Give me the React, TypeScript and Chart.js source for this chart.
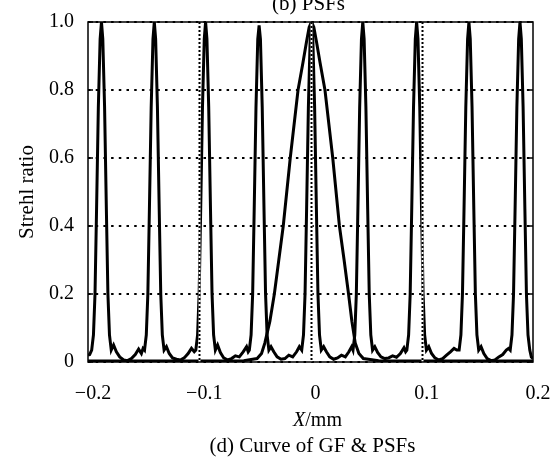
import React, { useEffect, useRef } from "react";
import { Chart, registerables } from "chart.js";

Chart.register(...registerables);

const X_TICKS = [-0.2, -0.1, 0, 0.1, 0.2];
const Y_TICKS = [0, 0.2, 0.4, 0.6, 0.8, 1.0];

// PSF curve (nine narrow peaks on a noisy floor)
const psfX = [
  -0.2, -0.1985,
  -0.1967, -0.1951, -0.1937, -0.1923, -0.1907, -0.1891, -0.1879, -0.1867, -0.1851, -0.1835, -0.1821, -0.1807, -0.1791,
  -0.177, -0.1745, -0.1715, -0.168, -0.1645, -0.161, -0.1575, -0.1545, -0.152, -0.1505,
  -0.1492, -0.1476, -0.1462, -0.1448, -0.1432, -0.1416, -0.1404, -0.1392, -0.1376, -0.136, -0.1346, -0.1332, -0.1316,
  -0.1295, -0.127, -0.124, -0.1205, -0.117, -0.1135, -0.11, -0.107, -0.1045,
  -0.1031, -0.1015, -0.1001, -0.0987, -0.0971, -0.0955, -0.0943, -0.0931, -0.0915, -0.0899, -0.0885, -0.0871, -0.0855,
  -0.0835, -0.081, -0.078, -0.0745, -0.071, -0.0675, -0.064, -0.0605, -0.0575, -0.056,
  -0.055, -0.0534, -0.052, -0.0506, -0.049, -0.0474, -0.0462, -0.045, -0.0434, -0.0418, -0.0404, -0.039, -0.0374,
  -0.0355, -0.033, -0.03, -0.0265, -0.023, -0.0195, -0.016, -0.0125, -0.01,
  -0.0079, -0.0063, -0.0049, -0.0035, -0.0019, -0.0003, 0.0009, 0.0021, 0.0037, 0.0053, 0.0067, 0.0081, 0.0097,
  0.0118, 0.0143, 0.0173, 0.0208, 0.0243, 0.0278, 0.0313, 0.0345, 0.037,
  0.0382, 0.0398, 0.0412, 0.0426, 0.0442, 0.0458, 0.047, 0.0482, 0.0498, 0.0514, 0.0528, 0.0542, 0.0558,
  0.0578, 0.0603, 0.0633, 0.0668, 0.0703, 0.0738, 0.0773, 0.0808, 0.084, 0.0855,
  0.0866, 0.0882, 0.0896, 0.091, 0.0926, 0.0942, 0.0954, 0.0966, 0.0982, 0.0998, 0.1012, 0.1026, 0.1042,
  0.1063, 0.1088, 0.1118, 0.1153, 0.1188, 0.1223, 0.1258, 0.129, 0.1315,
  0.1336, 0.1352, 0.1366, 0.138, 0.1396, 0.1412, 0.1424, 0.1436, 0.1452, 0.1468, 0.1482, 0.1496, 0.1512,
  0.1533, 0.1558, 0.1588, 0.1623, 0.1658, 0.1693, 0.1728, 0.176, 0.178,
  0.1795, 0.1811, 0.1825, 0.1839, 0.1855, 0.1871, 0.1883, 0.1895, 0.1911, 0.1927, 0.1941, 0.1955, 0.1971,
  0.1985, 0.2,
];
const psfY = [
  0.02, 0.022,
  0.035, 0.08, 0.2, 0.45, 0.75, 0.95, 1.0, 0.95, 0.75, 0.45, 0.2, 0.08, 0.035,
  0.05, 0.03, 0.015, 0.006, 0.004, 0.01, 0.022, 0.038, 0.025, 0.04,
  0.035, 0.08, 0.2, 0.45, 0.75, 0.95, 1.0, 0.95, 0.75, 0.45, 0.2, 0.08, 0.035,
  0.045, 0.025, 0.012, 0.008, 0.006, 0.012, 0.025, 0.04, 0.03,
  0.035, 0.08, 0.2, 0.45, 0.75, 0.95, 1.0, 0.95, 0.75, 0.45, 0.2, 0.08, 0.035,
  0.05, 0.028, 0.012, 0.006, 0.01, 0.018, 0.015, 0.03, 0.045, 0.03,
  0.035, 0.08, 0.2, 0.45, 0.75, 0.95, 0.99, 0.95, 0.75, 0.45, 0.2, 0.08, 0.035,
  0.045, 0.03, 0.015, 0.008, 0.01, 0.02, 0.015, 0.03, 0.045,
  0.035, 0.08, 0.2, 0.45, 0.75, 0.95, 1.0, 0.95, 0.75, 0.45, 0.2, 0.08, 0.035,
  0.045, 0.03, 0.015, 0.008, 0.012, 0.02, 0.015, 0.03, 0.045,
  0.035, 0.08, 0.2, 0.45, 0.75, 0.95, 1.0, 0.95, 0.75, 0.45, 0.2, 0.08, 0.035,
  0.045, 0.028, 0.015, 0.01, 0.012, 0.018, 0.014, 0.025, 0.042, 0.03,
  0.035, 0.08, 0.2, 0.45, 0.75, 0.95, 1.0, 0.95, 0.75, 0.45, 0.2, 0.08, 0.035,
  0.045, 0.025, 0.012, 0.006, 0.01, 0.02, 0.03, 0.04, 0.035,
  0.035, 0.08, 0.2, 0.45, 0.75, 0.95, 1.0, 0.95, 0.75, 0.45, 0.2, 0.08, 0.035,
  0.045, 0.025, 0.01, 0.004, 0.006, 0.015, 0.022, 0.035, 0.04,
  0.035, 0.08, 0.2, 0.45, 0.75, 0.95, 1.0, 0.95, 0.75, 0.45, 0.2, 0.08, 0.035,
  0.015, 0.01,
];

// GF curve (wide central lobe)
const gfX = [
  -0.2, -0.1, -0.06, -0.048, -0.044, -0.041, -0.0365, -0.0325, -0.0285, -0.0245, -0.0182, -0.0112, -0.0068, -0.0037, -0.0012,
  0.0009,
  0.003, 0.0055, 0.0086, 0.013, 0.02, 0.026, 0.0302, 0.0342, 0.0372, 0.0402, 0.0435, 0.0475, 0.0612, 0.1, 0.2,
];
const gfY = [
  0.003, 0.003, 0.004, 0.01, 0.025, 0.056, 0.12, 0.2, 0.3, 0.4, 0.6, 0.8, 0.88, 0.94, 0.985,
  1.0,
  0.985, 0.94, 0.88, 0.8, 0.6, 0.4, 0.3, 0.2, 0.12, 0.056, 0.025, 0.01, 0.004, 0.003, 0.003,
];

const SERIF = '"Liberation Serif", "Times New Roman", serif';

const fmtX = (v: number) => (v === 0 ? "0" : (v < 0 ? "\u2212" : "") + Math.abs(v).toFixed(1));
const fmtY = (v: number) => (v === 0 ? "0" : v.toFixed(1));

const decor = {
  id: "decor",
  afterDatasetsDraw(chart: any) {
    const { ctx, chartArea: a, scales } = chart;
    ctx.save();
    // dotted vertical grid lines drawn over the curves (white-backed)
    for (const v of X_TICKS) {
      if (v <= X_TICKS[0] || v >= X_TICKS[X_TICKS.length - 1]) continue;
      const px = Math.round(scales.x.getPixelForValue(v)) + 0.5;
      ctx.setLineDash([]);
      ctx.strokeStyle = "#fff";
      ctx.lineWidth = 2;
      ctx.beginPath();
      ctx.moveTo(px, a.top);
      ctx.lineTo(px, a.bottom);
      ctx.stroke();
      ctx.setLineDash([2, 2]);
      ctx.strokeStyle = "#000";
      ctx.beginPath();
      ctx.moveTo(px, a.top);
      ctx.lineTo(px, a.bottom);
      ctx.stroke();
    }
    ctx.restore();
  },
  afterDraw(chart: any) {
    const { ctx, chartArea: a, scales } = chart;
    ctx.save();
    ctx.setLineDash([]);
    ctx.strokeStyle = "#000";
    ctx.lineWidth = 1.5;
    ctx.strokeRect(a.left, a.top, a.right - a.left, a.bottom - a.top);
    // small inward ticks on left and right
    for (const v of Y_TICKS) {
      const py = scales.y.getPixelForValue(v);
      ctx.beginPath();
      ctx.moveTo(a.left, py);
      ctx.lineTo(a.left + 5, py);
      ctx.moveTo(a.right - 5, py);
      ctx.lineTo(a.right, py);
      ctx.stroke();
    }
    const mid = (a.left + a.right) / 2;
    ctx.fillStyle = "#000";
    ctx.textBaseline = "alphabetic";
    ctx.textAlign = "center";
    ctx.font = `21px ${SERIF}`;
    ctx.fillText("(b) PSFs", mid - 2, a.top - 12);
    ctx.fillText("(d) Curve of GF & PSFs", mid + 2, a.bottom + 90);
    // X/mm with italic X
    ctx.textAlign = "left";
    ctx.font = `italic 20px ${SERIF}`;
    const wX = ctx.measureText("X").width;
    ctx.font = `20px ${SERIF}`;
    const wR = ctx.measureText("/mm").width;
    const start = mid + 7 - (wX + wR) / 2;
    ctx.font = `italic 20px ${SERIF}`;
    ctx.fillText("X", start, a.bottom + 64);
    ctx.font = `20px ${SERIF}`;
    ctx.fillText("/mm", start + wX, a.bottom + 64);
    ctx.restore();
  },
};

export default function App() {
  const ref = useRef<HTMLCanvasElement | null>(null);
  useEffect(() => {
    if (!ref.current) return;
    const chart = new Chart(ref.current, {
      type: "line",
      data: {
        datasets: [
          {
            label: "GF",
            data: gfX.map((x, i) => ({ x, y: gfY[i] })),
            borderColor: "#000",
            borderWidth: 3,
            pointRadius: 0,
            tension: 0,
            fill: false,
          },
          {
            label: "PSFs",
            data: psfX.map((x, i) => ({ x, y: psfY[i] })),
            borderColor: "#000",
            borderWidth: 3,
            pointRadius: 0,
            tension: 0,
            fill: false,
          },
        ],
      },
      options: {
        responsive: false,
        animation: false,
        events: [],
        layout: { padding: { left: 0, right: 22, top: 22, bottom: 0 } },
        plugins: { legend: { display: false }, tooltip: { enabled: false }, title: { display: false } },
        scales: {
          x: {
            type: "linear",
            min: -0.2,
            max: 0.2,
            afterBuildTicks: (s: any) => {
              s.ticks = X_TICKS.map((v) => ({ value: v }));
            },
            afterFit: (s: any) => {
              s.height = 105;
              s.paddingLeft = 0;
              s.paddingRight = 0;
            },
            grid: { color: "#000", lineWidth: 0, drawTicks: false },
            border: { display: false },
            ticks: {
              color: "#000",
              font: { family: SERIF, size: 20 },
              padding: 20,
              labelOffset: 5,
              maxRotation: 0,
              autoSkip: false,
              callback: (v: any) => fmtX(Number(v)),
            },
          },
          y: {
            type: "linear",
            min: 0,
            max: 1,
            afterBuildTicks: (s: any) => {
              s.ticks = Y_TICKS.map((v) => ({ value: v }));
            },
            afterFit: (s: any) => {
              s.width = 88;
              s.paddingTop = 0;
              s.paddingBottom = 0;
            },
            grid: { color: "#000", lineWidth: 2, drawTicks: false },
            border: { display: false, dash: [2.5, 5.2] },
            ticks: {
              color: "#000",
              font: { family: SERIF, size: 20 },
              padding: 14,
              autoSkip: false,
              callback: (v: any) => fmtY(Number(v)),
            },
            title: {
              display: true,
              text: "Strehl ratio",
              color: "#000",
              font: { family: SERIF, size: 21 },
              padding: { top: 15, bottom: 0 },
            },
          },
        },
      },
      plugins: [decor],
    });
    return () => chart.destroy();
  }, []);
  return (
    <div style={{ position: "absolute", left: 0, top: 0, width: 555, height: 467, background: "#fff" }}>
      <canvas ref={ref} width={555} height={467} />
    </div>
  );
}
